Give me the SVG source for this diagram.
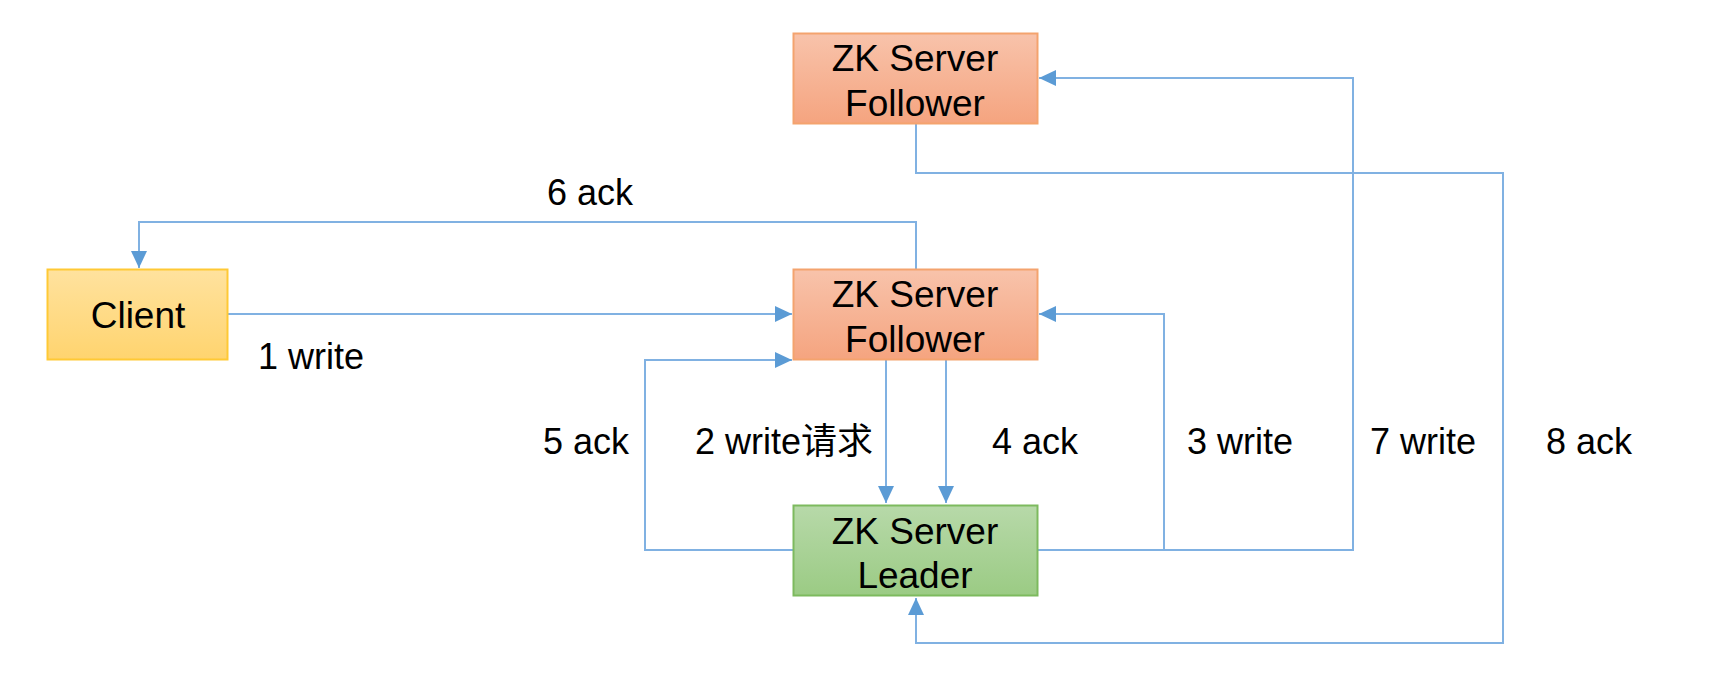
<svg xmlns="http://www.w3.org/2000/svg" width="1734" height="683" viewBox="0 0 1734 683">
<style>
.lbl{font-family:"Liberation Sans",Arial,"Noto Sans CJK SC",sans-serif;font-size:36px;fill:#000}
.nt{font-family:"Liberation Sans",Arial,sans-serif;font-size:37px;fill:#000;text-anchor:middle}
.con{fill:none;stroke:#80B1E2;stroke-width:2}
</style>
<defs>
<linearGradient id="gF" x1="0" y1="0" x2="0" y2="1"><stop offset="0" stop-color="#F8C3AB"/><stop offset="1" stop-color="#F5A47F"/></linearGradient>
<linearGradient id="gC" x1="0" y1="0" x2="0" y2="1"><stop offset="0" stop-color="#FFE29E"/><stop offset="1" stop-color="#FFD46F"/></linearGradient>
<linearGradient id="gL" x1="0" y1="0" x2="0" y2="1"><stop offset="0" stop-color="#B7D9A9"/><stop offset="1" stop-color="#9BCB84"/></linearGradient>
<marker id="arr" markerUnits="userSpaceOnUse" markerWidth="18" markerHeight="16" viewBox="0 0 18 16" refX="17" refY="8" orient="auto"><path d="M0,0 L17,8 L0,16 Z" fill="#5B9BD5"/></marker>
</defs>
<g id="connectors">
<path class="con" d="M228,314 H792" marker-end="url(#arr)"/>
<path class="con" d="M916,269 V222 H139 V268" marker-end="url(#arr)"/>
<path class="con" d="M793,550 H645 V360 H792" marker-end="url(#arr)"/>
<path class="con" d="M886,360 V503" marker-end="url(#arr)"/>
<path class="con" d="M946,360 V503" marker-end="url(#arr)"/>
<path class="con" d="M1037,550 H1164 V314 H1039" marker-end="url(#arr)"/>
<path class="con" d="M1037,550 H1353 V78 H1039" marker-end="url(#arr)"/>
<path class="con" d="M916,124 V173 H1503 V643 H916 V598" marker-end="url(#arr)"/>
</g>
<g id="follower-top">
<rect x="793.5" y="33.5" width="244" height="90" fill="url(#gF)" stroke="#F4A36E" stroke-width="2"/>
<text class="nt" x="915" y="71">ZK Server</text>
<text class="nt" x="915" y="116">Follower</text>
</g>
<g id="client">
<rect x="47.5" y="269.5" width="180" height="90" fill="url(#gC)" stroke="#FFC935" stroke-width="2"/>
<text class="nt" x="138" y="328">Client</text>
</g>
<g id="follower-mid">
<rect x="793.5" y="269.5" width="244" height="90" fill="url(#gF)" stroke="#F4A36E" stroke-width="2"/>
<text class="nt" x="915" y="307">ZK Server</text>
<text class="nt" x="915" y="352">Follower</text>
</g>
<g id="leader">
<rect x="793.5" y="505.5" width="244" height="90" fill="url(#gL)" stroke="#7DBA5E" stroke-width="2"/>
<text class="nt" x="915" y="544">ZK Server</text>
<text class="nt" x="915" y="588">Leader</text>
</g>
<g id="labels">
<text class="lbl" x="258" y="369">1 write</text>
<text class="lbl" x="547" y="205">6 ack</text>
<text class="lbl" x="543" y="454">5 ack</text>
<text class="lbl" x="695" y="454">2 write请求</text>
<text class="lbl" x="992" y="454">4 ack</text>
<text class="lbl" x="1187" y="454">3 write</text>
<text class="lbl" x="1370" y="454">7 write</text>
<text class="lbl" x="1546" y="454">8 ack</text>
</g>
</svg>
